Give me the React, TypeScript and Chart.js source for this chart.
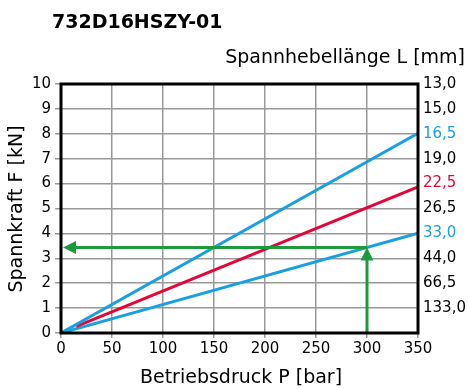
import React, { useEffect, useRef } from "react";
import { Chart, registerables } from "chart.js";

Chart.register(...registerables);

const titleText = "732D16HSZY-01";
const rightTitle = "Spannhebellänge L [mm]";
const xTitle = "Betriebsdruck P [bar]";
const yTitle = "Spannkraft F [kN]";

const xTicks = [0, 50, 100, 150, 200, 250, 300, 350];
const yTicks = [0, 1, 2, 3, 4, 5, 6, 7, 8, 9, 10];
const rightLabels = ["", "133,0", "66,5", "44,0", "33,0", "26,5", "22,5", "19,0", "16,5", "15,0", "13,0"];
const rightColors = ["#000", "#000", "#000", "#000", "#1aa0e0", "#000", "#e2063a", "#000", "#1aa0e0", "#000", "#000"];

const blueTopP = [0, 350];
const blueTopF = [0, 8.02];
const redP = [15, 350];
const redF = [0.27, 5.87];
const blueLowP = [0, 350];
const blueLowF = [0, 4.01];

const arrowP = 300;
const arrowF = 3.43;

const BLUE = "#1aa0e0";
const RED = "#e2063a";
const GREEN = "#1c9a3c";

function pts(xs: number[], ys: number[]) {
  return xs.map((x, i) => ({ x, y: ys[i] }));
}

const FONT = "'DejaVu Sans', sans-serif";

export default function App() {
  const ref = useRef<HTMLCanvasElement | null>(null);
  useEffect(() => {
    document.body.style.margin = "0";
    const canvas = ref.current!;
    const overlay = {
      id: "overlay",
      afterDatasetsDraw(chart: any) {
        const ctx = chart.ctx;
        const xs = chart.scales.x;
        const ys = chart.scales.y;
        const px = xs.getPixelForValue(arrowP);
        const py = ys.getPixelForValue(arrowF);
        const x0 = xs.getPixelForValue(0);
        const y0 = ys.getPixelForValue(0);
        ctx.save();
        ctx.strokeStyle = GREEN;
        ctx.fillStyle = GREEN;
        ctx.lineWidth = 3;
        ctx.beginPath();
        ctx.moveTo(px, y0);
        ctx.lineTo(px, py + 10);
        ctx.moveTo(px, py);
        ctx.lineTo(x0 + 12, py);
        ctx.stroke();
        const L = 13, W = 6.5;
        ctx.beginPath();
        ctx.moveTo(x0 + 2, py);
        ctx.lineTo(x0 + 2 + L, py - W);
        ctx.lineTo(x0 + 2 + L, py + W);
        ctx.closePath();
        ctx.fill();
        ctx.beginPath();
        ctx.moveTo(px, py);
        ctx.lineTo(px - W, py + L);
        ctx.lineTo(px + W, py + L);
        ctx.closePath();
        ctx.fill();
        ctx.restore();
      },
      afterDraw(chart: any) {
        const ctx = chart.ctx;
        const a = chart.chartArea;
        ctx.save();
        ctx.strokeStyle = "#000";
        ctx.lineWidth = 3;
        ctx.strokeRect(a.left, a.top, a.right - a.left, a.bottom - a.top);
        ctx.fillStyle = "#000";
        ctx.font = `bold 19px ${FONT}`;
        ctx.textAlign = "left";
        ctx.textBaseline = "middle";
        ctx.fillText(titleText, 52, 23);
        ctx.font = `19px ${FONT}`;
        ctx.textAlign = "right";
        ctx.fillText(rightTitle, 465, 58);
        ctx.textAlign = "center";
        ctx.fillText(xTitle, 241, 378);
        ctx.translate(17, 209);
        ctx.rotate(-Math.PI / 2);
        ctx.fillText(yTitle, 0, 0);
        ctx.restore();
      },
    };
    const chart = new Chart(canvas, {
      type: "line",
      data: {
        datasets: [
          { data: pts(blueTopP, blueTopF), borderColor: BLUE, borderWidth: 3, pointRadius: 0 },
          { data: pts(redP, redF), borderColor: RED, borderWidth: 3, pointRadius: 0 },
          { data: pts(blueLowP, blueLowF), borderColor: BLUE, borderWidth: 3, pointRadius: 0 },
        ],
      },
      options: {
        animation: false,
        responsive: false,
        maintainAspectRatio: false,
        layout: { padding: { top: 84, left: 0, right: 0, bottom: 0 } },
        plugins: { legend: { display: false }, tooltip: { enabled: false }, title: { display: false } },
        scales: {
          x: {
            type: "linear",
            min: 0,
            max: 350,
            afterBuildTicks: (s: any) => { s.ticks = xTicks.map((v) => ({ value: v })); },
            afterFit: (s: any) => { s.height = 56; },
            grid: { color: "#999", lineWidth: 1.5, tickLength: 5 },
            border: { display: false },
            ticks: { color: "#000", font: { family: FONT, size: 15 }, padding: 2, maxRotation: 0 },
          },
          y: {
            type: "linear",
            min: 0,
            max: 10,
            afterBuildTicks: (s: any) => { s.ticks = yTicks.map((v) => ({ value: v })); },
            afterFit: (s: any) => { s.width = 61; },
            grid: { color: "#999", lineWidth: 1.5, tickLength: 6 },
            border: { display: false },
            ticks: { color: "#000", font: { family: FONT, size: 15 }, padding: 4 },
          },
          y2: {
            type: "linear",
            position: "right",
            min: 0,
            max: 10,
            afterBuildTicks: (s: any) => { s.ticks = yTicks.map((v) => ({ value: v })); },
            afterFit: (s: any) => { s.width = 50; },
            grid: { display: false, drawTicks: false },
            border: { display: false },
            ticks: {
              font: { family: FONT, size: 15 },
              padding: 5,
              color: (c: any) => rightColors[c.index] || "#000",
              callback: (_v: any, i: number) => rightLabels[i],
            },
          },
        },
      },
      plugins: [overlay],
    } as any);
    return () => chart.destroy();
  }, []);
  return (
    <div style={{ width: 468, height: 389 }}>
      <canvas ref={ref} width={468} height={389} style={{ display: "block" }} />
    </div>
  );
}
